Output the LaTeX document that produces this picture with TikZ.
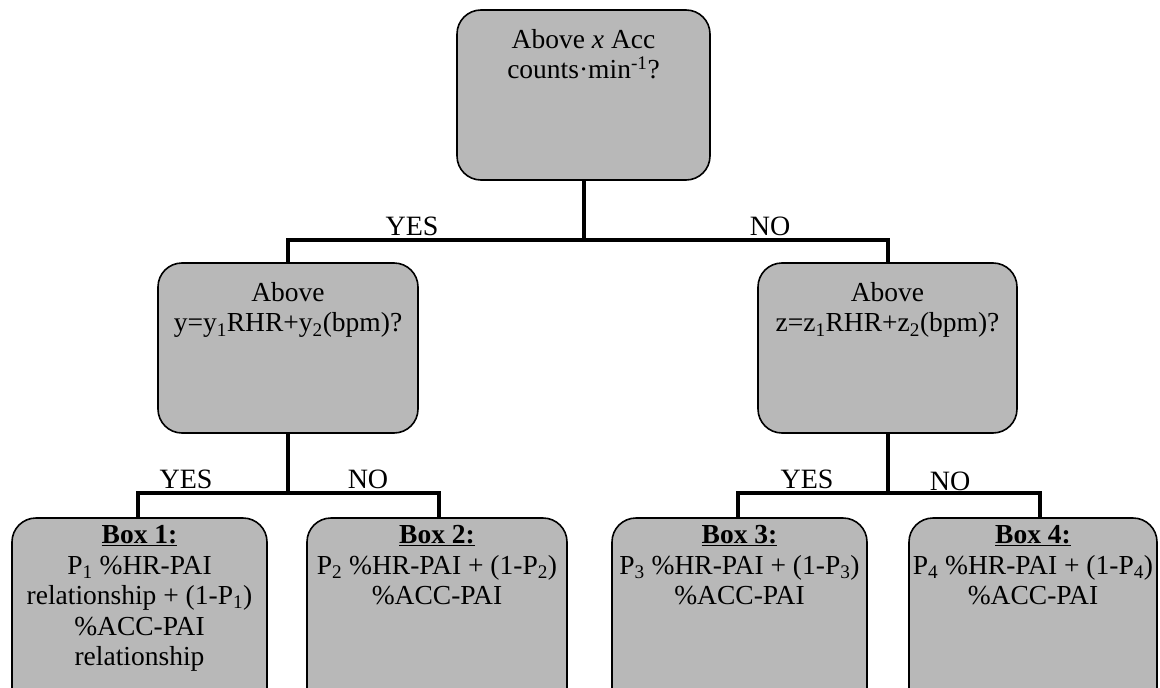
\documentclass[tikz,border=0pt]{standalone}
\usepackage{fontspec}
\setmainfont{Liberation Serif}
\begin{document}
\begin{tikzpicture}[x=1pt,y=-1pt,
  box/.style={draw=black, line width=1.6pt, fill=boxgray, rounded corners=24pt, inner sep=0pt},
  txt/.style={anchor=north, align=center, inner sep=0pt, font=\fontsize{27.5}{30.5}\selectfont},
  lbl/.style={anchor=south, inner sep=0pt, font=\fontsize{28}{31}\selectfont},
  conn/.style={draw=black, line width=4pt}]
\definecolor{boxgray}{RGB}{184,184,184}
\useasboundingbox (0,0) rectangle (1160,688);
\clip (0,0) rectangle (1160,688);
% boxes
\node[box, minimum width=253pt, minimum height=170pt] (top) at (583.5,95) {};
\node[box, minimum width=260pt, minimum height=170pt] (midL) at (288,348) {};
\node[box, minimum width=259pt, minimum height=170pt] (midR) at (887.5,348) {};
\node[box, minimum width=255pt, minimum height=200pt] (b1) at (139.5,618) {};
\node[box, minimum width=260pt, minimum height=200pt] (b2) at (437,618) {};
\node[box, minimum width=255pt, minimum height=200pt] (b3) at (739.5,618) {};
\node[box, minimum width=248pt, minimum height=200pt] (b4) at (1033,618) {};
% texts
\node[txt] (ttop) at ([yshift=-20pt]top.north) {Above \textit{x} Acc\\counts·min\textsuperscript{-1}?};
\node[txt] (tmidL) at ([yshift=-20pt]midL.north) {Above\\y=y\textsubscript{1}RHR+y\textsubscript{2}(bpm)?};
\node[txt] (tmidR) at ([yshift=-20pt]midR.north) {Above\\z=z\textsubscript{1}RHR+z\textsubscript{2}(bpm)?};
\node[txt] (tb1) at ([yshift=-8pt]b1.north) {\underline{\textbf{Box 1:}}\\P\textsubscript{1} \%HR-PAI\\relationship + (1-P\textsubscript{1})\\\%ACC-PAI\\relationship};
\node[txt] (tb2) at ([yshift=-8pt]b2.north) {\underline{\textbf{Box 2:}}\\P\textsubscript{2} \%HR-PAI + (1-P\textsubscript{2})\\\%ACC-PAI};
\node[txt] (tb3) at ([yshift=-8pt]b3.north) {\underline{\textbf{Box 3:}}\\P\textsubscript{3} \%HR-PAI + (1-P\textsubscript{3})\\\%ACC-PAI};
\node[txt] (tb4) at ([yshift=-8pt]b4.north) {\underline{\textbf{Box 4:}}\\P\textsubscript{4} \%HR-PAI + (1-P\textsubscript{4})\\\%ACC-PAI};
% junctions
\coordinate (j0) at (top.south |- 0,240);
\coordinate (jL) at (midL.south |- 0,493);
\coordinate (jR) at (midR.south |- 0,493);
% connectors
\draw[conn] (top.south) -- (j0);
\draw[conn] (midL.north) |- (j0) -| (midR.north);
\draw[conn] (midL.south) -- (jL);
\draw[conn] ([xshift=-2pt]b1.north) |- (jL) -| ([xshift=2pt]b2.north);
\draw[conn] (midR.south) -- (jR);
\draw[conn] ([xshift=-2pt]b3.north) |- (jR) -| ([xshift=7pt]b4.north);
% labels
\node[lbl] (yes0) at (412,236) {YES};
\node[lbl] (no0) at (770,236) {NO};
\node[lbl] (yesL) at (186,489) {YES};
\node[lbl] (noL) at (368,489) {NO};
\node[lbl] (yesR) at (807,489) {YES};
\node[lbl] (noR) at (950,491) {NO};
\end{tikzpicture}
\end{document}
